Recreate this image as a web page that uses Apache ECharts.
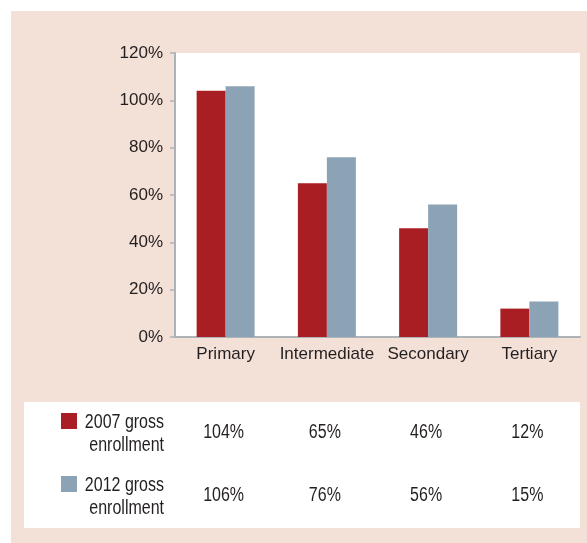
<!DOCTYPE html>
<html>
<head>
<meta charset="utf-8">
<script src="https://cdn.jsdelivr.net/npm/echarts@6/dist/echarts.min.js"></script>
<style>
  html, body { margin: 0; padding: 0; background: #fff; }
  #chart { width: 587px; height: 543px; }
</style>
</head>
<body>
<div id="chart"></div>
<script>
  // data
  var categories = ['Primary', 'Intermediate', 'Secondary', 'Tertiary'];
  var enroll2007 = [104, 65, 46, 12];
  var enroll2012 = [106, 76, 56, 15];
  var seriesNames = ['2007 gross\nenrollment', '2012 gross\nenrollment'];
  var yTicks = [0, 20, 40, 60, 80, 100, 120];

  var RED = '#a81e23';
  var BLUE = '#8ca3b6';
  var TXT = '#231f20';
  var FONT = '"Liberation Sans", Arial, sans-serif';
  var FS = 17;

  var chart = echarts.init(document.getElementById('chart'));

  chart.setOption({
    backgroundColor: '#fff',
    animation: false,
    textStyle: { fontFamily: FONT },
    grid: {
      left: 175, right: 7, top: 53, bottom: 206,
      show: true, backgroundColor: '#fff', borderWidth: 0
    },
    xAxis: {
      type: 'category',
      data: categories,
      axisLine: { lineStyle: { color: '#aeb3b8', width: 2 } },
      axisTick: { show: false },
      axisLabel: { color: TXT, fontSize: FS, margin: 9, interval: 0, fontFamily: FONT }
    },
    yAxis: {
      type: 'value',
      min: yTicks[0],
      max: yTicks[yTicks.length - 1],
      interval: 20,
      axisLine: { show: true, lineStyle: { color: '#aeb3b8', width: 2 } },
      axisTick: { show: true, length: 5, lineStyle: { color: '#aeb3b8', width: 1.5 } },
      splitLine: { show: false },
      axisLabel: { color: TXT, fontSize: FS, margin: 12, fontFamily: FONT, formatter: '{value}%' }
    },
    series: [
      { name: seriesNames[0], type: 'bar', data: enroll2007, barWidth: 29, barGap: '0%',
        itemStyle: { color: RED } },
      { name: seriesNames[1], type: 'bar', data: enroll2012, barWidth: 29, barGap: '0%',
        itemStyle: { color: BLUE } }
    ]
  });

  // table under the chart, columns follow the category axis
  // text is squeezed a little to look like the condensed face of the original
  var rows = [
    { name: seriesNames[0], color: RED, values: enroll2007, y: 432 },
    { name: seriesNames[1], color: BLUE, values: enroll2012, y: 495 }
  ];
  var g = [
    { type: 'rect', z: -10, silent: true, shape: { x: 11, y: 11, width: 576, height: 532 },
      style: { fill: '#f3e0d7' } },
    { type: 'rect', z: -5, silent: true, shape: { x: 24, y: 402, width: 556, height: 126 },
      style: { fill: '#fff' } }
  ];
  rows.forEach(function (r) {
    g.push({ type: 'rect', shape: { x: 61, y: r.y - 19, width: 16, height: 16 },
      style: { fill: r.color } });
    g.push({ type: 'text', x: 164, y: r.y + 1.5, scaleX: 0.8,
      style: { text: r.name, fill: TXT, font: '20px ' + FONT, lineHeight: 23,
        align: 'right', verticalAlign: 'middle' } });
    r.values.forEach(function (v, i) {
      var px = chart.convertToPixel({ xAxisIndex: 0 }, categories[i]);
      g.push({ type: 'text', x: px - 2, y: r.y, scaleX: 0.8,
        style: { text: v + '%', fill: TXT, font: '20px ' + FONT,
          align: 'center', verticalAlign: 'middle' } });
    });
  });
  chart.setOption({ graphic: g });
</script>
</body>
</html>
